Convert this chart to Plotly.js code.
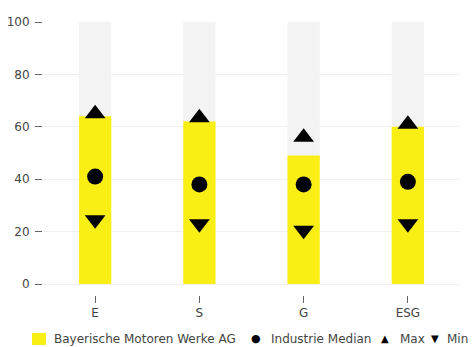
<!DOCTYPE html>
<html>
<head>
<meta charset="utf-8">
<script src="https://cdn.plot.ly/plotly-3.0.1.min.js"></script>
<style>html,body{margin:0;padding:0;background:#fff;}#chart{width:473px;height:347px;}</style>
</head>
<body>
<div id="chart"></div>
<script>
const categories = ["E", "S", "G", "ESG"];
const companyValues = [64, 62, 49, 60];
const medianValues = [41, 38, 38, 39];
const maxValues = [65, 63.5, 56, 61];
const minValues = [24.5, 23, 20.5, 23];
const backgroundValues = [100, 100, 100, 100];
const yTicks = [0, 20, 40, 60, 80, 100];
const legendLabels = ["Bayerische Motoren Werke AG", "Industrie Median", "Max", "Min"];

const FONT = "'Century Gothic', 'URW Gothic', 'DejaVu Sans', sans-serif";
const TXT = "#444";
const TICK = "#666";

const traces = [
  {type: "bar", x: categories, y: backgroundValues, marker: {color: "#f3f3f3"}, width: 0.31, showlegend: false, hoverinfo: "skip"},
  {type: "bar", x: categories, y: companyValues, name: legendLabels[0], marker: {color: "#f9ef14"}, width: 0.31},
  {type: "scatter", mode: "markers", x: categories, y: medianValues, name: legendLabels[1], marker: {symbol: "circle", size: 16, color: "#000"}},
  {type: "scatter", mode: "markers", x: categories, y: maxValues, name: legendLabels[2], marker: {symbol: "triangle-up", size: 18, color: "#000"}},
  {type: "scatter", mode: "markers", x: categories, y: minValues, name: legendLabels[3], marker: {symbol: "triangle-down", size: 18, color: "#000"}}
];

// compact legend drawn as paper-positioned text (single row like the reference)
const ly = -0.161;
const ann = (x, text, size, anchor) => ({xref: "paper", yref: "paper", x: x, y: ly, text: text, showarrow: false,
  xanchor: anchor, yanchor: "middle", font: {size: size, color: anchor === "center" ? "#000" : TXT}});
const annotations = [
  ann(0.022, legendLabels[0], 12, "left"),
  ann(0.511, "●", 11, "center"),
  ann(0.542, legendLabels[1], 12, "left"),
  ann(0.820, "▲", 10, "center"),
  ann(0.851, legendLabels[2], 12, "left"),
  ann(0.941, "▼", 10, "center"),
  ann(0.965, legendLabels[3], 12, "left")
];
const shapes = [{type: "rect", xref: "paper", yref: "paper", x0: -0.0264, x1: 0.0072, y0: -0.183, y1: -0.139,
  fillcolor: "#f9ef14", line: {width: 0}}];

const layout = {
  width: 473, height: 347,
  margin: {l: 43, r: 13, t: 22, b: 52},
  barmode: "overlay",
  showlegend: false,
  paper_bgcolor: "#fff", plot_bgcolor: "#fff",
  font: {family: FONT, size: 12, color: TXT},
  xaxis: {type: "category", ticks: "outside", ticklen: 7, tickwidth: 1, tickcolor: TICK, showgrid: false, zeroline: false, showline: false, tickfont: {size: 12, color: TXT}},
  yaxis: {range: [-4.2, 100], tickvals: yTicks, ticks: "outside", ticklen: 7, tickwidth: 1, tickcolor: TICK, ticklabelstandoff: 3, showgrid: true, gridcolor: "#efefef", zeroline: false, showline: false, tickfont: {size: 12, color: TXT}},
  annotations: annotations,
  shapes: shapes
};

Plotly.newPlot("chart", traces, layout, {displayModeBar: false, staticPlot: true});
</script>
</body>
</html>
